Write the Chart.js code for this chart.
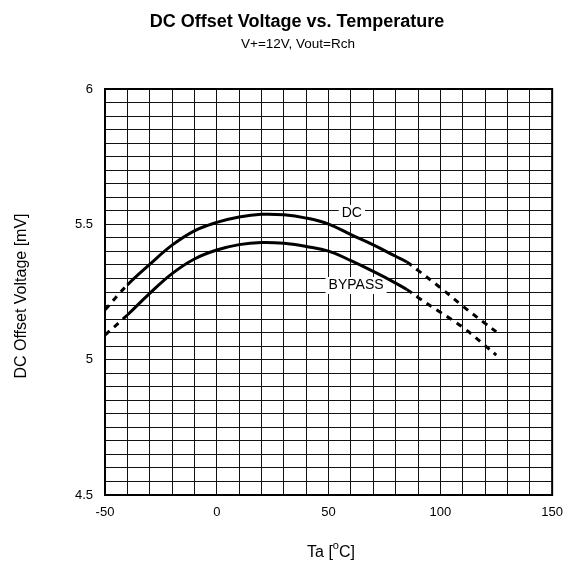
<!DOCTYPE html>
<html>
<head>
<meta charset="utf-8">
<script src="https://cdn.jsdelivr.net/npm/chart.js@4"></script>
<style>
  body { margin: 0; background: #fff; }
  canvas { display: block; }
</style>
</head>
<body>
<canvas id="grafico" width="573" height="565"></canvas>
<script>
// temperaturas (eixo x) e tensões de offset
const temperaturas = [-50, -40, -30, -20, -10, 0, 10, 20, 30, 40, 50, 60, 70, 80, 85, 90, 100, 110, 120, 125];
const valoresDC     = [5.184, 5.276, 5.352, 5.423, 5.476, 5.507, 5.527, 5.537, 5.535, 5.523, 5.501, 5.462, 5.424, 5.382, 5.361, 5.33, 5.266, 5.198, 5.134, 5.103];
const valoresBypass = [5.091, 5.165, 5.245, 5.318, 5.372, 5.405, 5.425, 5.433, 5.43, 5.418, 5.401, 5.366, 5.326, 5.283, 5.259, 5.23, 5.175, 5.12, 5.052, 5.017];

const ticksX = [-50, 0, 50, 100, 150];
const ticksY = [4.5, 5, 5.5, 6];

// rótulos das curvas (posição em coordenadas de dados)
const rotulos = [
    { texto: 'DC', x: 60.4, y: 5.542 },
    { texto: 'BYPASS', x: 62.3, y: 5.276 }
];

const fonte = '"Liberation Sans", Arial, sans-serif';

// trecho tracejado fora da faixa medida
const tracejado = ctx => (ctx.p0.parsed.x < -40 || ctx.p0.parsed.x >= 85) ? [6, 6] : undefined;

function serie(valores) {
    return {
        data: temperaturas.map((t, i) => ({ x: t, y: valores[i] })),
        borderColor: '#000',
        borderWidth: 3,
        pointRadius: 0,
        tension: 0.4,
        segment: { borderDash: tracejado }
    };
}

// desenha títulos, moldura e rótulos
const textosPlugin = {
    id: 'textos',
    beforeDatasetsDraw(chart) {
        const { ctx, scales, chartArea: a } = chart;
        ctx.save();
        ctx.strokeStyle = '#000';
        ctx.lineWidth = 2;
        ctx.strokeRect(a.left, a.top, a.right - a.left, a.bottom - a.top);

        ctx.font = '14px ' + fonte;
        ctx.textAlign = 'center';
        ctx.textBaseline = 'middle';
        rotulos.forEach(r => {
            const px = scales.x.getPixelForValue(r.x);
            const py = scales.y.getPixelForValue(r.y);
            const w = ctx.measureText(r.texto).width + 6;
            ctx.fillStyle = '#fff';
            ctx.fillRect(px - w / 2, py - 8, w, 17);
            ctx.fillStyle = '#000';
            ctx.fillText(r.texto, px, py);
        });
        ctx.restore();
    },
    afterDraw(chart) {
        const { ctx } = chart;
        ctx.save();
        ctx.fillStyle = '#000';
        ctx.textAlign = 'center';
        ctx.textBaseline = 'middle';
        ctx.font = 'bold 18px ' + fonte;
        ctx.fillText('DC Offset Voltage vs. Temperature', 297, 22);
        ctx.font = '13.5px ' + fonte;
        ctx.fillText('V+=12V, Vout=Rch', 298, 44);

        // título do eixo x com "o" sobrescrito
        ctx.textAlign = 'left';
        const p1 = 'Ta [', p2 = 'C]';
        ctx.font = '11px ' + fonte;
        const wo = ctx.measureText('o').width;
        ctx.font = '16px ' + fonte;
        const w1 = ctx.measureText(p1).width, w2 = ctx.measureText(p2).width;
        let x0 = 331 - (w1 + wo + w2) / 2;
        ctx.fillText(p1, x0, 553);
        ctx.font = '11px ' + fonte;
        ctx.fillText('o', x0 + w1, 546);
        ctx.font = '16px ' + fonte;
        ctx.fillText(p2, x0 + w1 + wo, 553);

        // título do eixo y
        ctx.translate(22, 296);
        ctx.rotate(-Math.PI / 2);
        ctx.textAlign = 'center';
        ctx.fillText('DC Offset Voltage [mV]', 0, 0);
        ctx.restore();
    }
};

const grid = { color: '#111', lineWidth: 1, drawTicks: false };
const borda = { color: '#000', width: 2 };

new Chart(document.getElementById('grafico'), {
    type: 'line',
    data: { datasets: [serie(valoresDC), serie(valoresBypass)] },
    options: {
        responsive: false,
        animation: false,
        layout: { padding: { top: 89, right: 15, left: 0, bottom: 0 } },
        plugins: { legend: { display: false }, tooltip: { enabled: false } },
        scales: {
            x: {
                type: 'linear',
                min: -50, max: 150,
                grid, border: borda,
                afterFit: s => { s.height = 70; },
                ticks: {
                    stepSize: 10, autoSkip: false, maxRotation: 0, padding: 10,
                    color: '#000', font: { family: fonte, size: 13 },
                    callback: v => ticksX.includes(v) ? String(v) : ''
                }
            },
            y: {
                min: 4.5, max: 6,
                grid, border: borda,
                afterFit: s => { s.width = 105; },
                ticks: {
                    stepSize: 0.05, autoSkip: false, maxTicksLimit: 100, padding: 12,
                    color: '#000', font: { family: fonte, size: 13 },
                    callback: v => {
                        const r = Math.round(v * 100) / 100;
                        return ticksY.includes(r) ? String(r) : '';
                    }
                }
            }
        }
    },
    plugins: [textosPlugin]
});
</script>
</body>
</html>
